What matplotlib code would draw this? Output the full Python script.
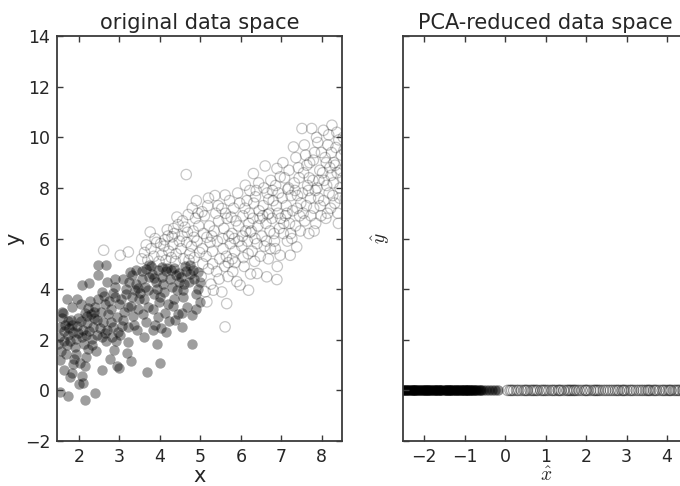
import matplotlib
matplotlib.use("Agg")
import matplotlib.pyplot as plt
import numpy as np

# ---------------------------------------------------------
# Data
# ---------------------------------------------------------
# class A (filled dark circles), original space
dark_x = [
    1.50, 1.55, 1.62, 1.58, 1.70, 1.66, 1.52, 1.72, 1.60, 1.68, 1.54, 1.74, 1.62, 1.54, 1.79, 1.70, 1.58, 1.48, 1.64, 1.76,
    1.80, 1.85, 1.90, 1.95, 1.83, 1.95, 1.88, 1.92, 1.99, 1.74, 1.82, 1.97, 1.86, 1.93, 1.98, 1.78, 1.84,
    2.05, 2.10, 2.15, 2.20, 2.07, 2.16, 2.07, 2.24, 2.12, 2.18, 2.02, 2.22, 2.08, 2.14, 2.20, 2.04, 2.23, 2.11, 2.17,
    2.30, 2.35, 2.40, 2.45, 2.39, 2.48, 2.48, 2.32, 2.44, 2.28, 2.38, 2.47, 2.33, 2.42, 2.36, 2.26,
    2.55, 2.60, 2.65, 2.70, 2.57, 2.77, 2.67, 2.70, 2.58, 2.62, 2.72, 2.53, 2.68, 2.74, 2.56, 2.64,
    2.80, 2.85, 2.90, 2.95, 2.94, 2.82, 2.88, 2.92, 2.98, 2.84, 2.78, 2.96, 2.90, 2.86,
    3.05, 3.10, 3.15, 3.20, 3.18, 3.02, 3.08, 3.12, 3.22, 3.00, 3.16, 3.24, 3.06, 3.20,
    3.29, 3.27, 3.30, 3.35, 3.40, 3.45, 3.32, 3.38, 3.44, 3.48, 3.34, 3.42, 3.46, 3.28,
    3.55, 3.60, 3.65, 3.70, 3.60, 3.68, 3.72, 3.58, 3.62, 3.74, 3.52, 3.66, 3.70, 3.56,
    3.80, 3.85, 3.90, 3.95, 3.93, 3.99, 3.82, 3.88, 3.98, 3.78, 3.92, 3.86, 3.96, 3.84,
    4.05, 4.05, 4.10, 4.15, 4.20, 4.02, 4.08, 4.18, 4.22, 4.12, 4.00, 4.24, 4.14,
    4.34, 4.30, 4.35, 4.40, 4.45, 4.28, 4.38, 4.42, 4.48, 4.32, 4.46,
    4.54, 4.54, 4.60, 4.65, 4.71, 4.58, 4.68, 4.62, 4.52, 4.74, 4.56,
    4.79, 4.79, 4.75, 4.98, 4.95, 4.98, 4.85, 4.90, 4.82, 4.88, 4.93,
]
dark_y = [
    2.10, 1.55, 2.35, 2.85, 1.80, 2.60, 1.20, 2.20, 3.05, 1.45, 2.50, 2.75, 0.80, -0.06, 0.53, 3.63, 3.10, 1.85, 1.95, 2.45,
    2.80, 2.30, 1.70, 2.55, 3.30, 3.63, 1.25, 2.05, 0.27, -0.22, 2.60, 2.85, 1.05, 1.45, 2.25, 1.95, 0.70,
    2.75, 2.40, 3.05, 2.65, 0.57, -0.39, 4.16, 4.23, 1.85, 1.30, 1.10, 3.25, 2.10, 0.95, 2.95, 3.40, 1.65, 0.30, 2.20,
    3.00, 2.50, 3.30, 2.80, -0.12, 4.55, 4.95, 1.80, 2.20, 3.55, 3.10, 3.60, 2.05, 1.55, 2.85, 2.35,
    3.10, 2.70, 3.40, 2.40, 0.80, 1.26, 4.95, 4.30, 2.10, 3.75, 3.00, 2.45, 1.95, 3.55, 3.90, 2.25,
    3.20, 2.50, 3.70, 2.90, 0.96, 2.10, 4.10, 1.95, 3.40, 3.85, 2.70, 2.30, 4.40, 1.60,
    3.60, 2.80, 4.00, 3.30, 1.46, 2.20, 4.40, 3.10, 2.50, 0.90, 3.80, 4.30, 2.55, 1.90,
    1.15, 4.68, 3.70, 2.60, 4.20, 3.20, 4.55, 3.95, 2.40, 3.60, 2.95, 4.75, 4.05, 3.35,
    4.40, 3.60, 4.80, 3.30, 2.12, 0.71, 4.95, 3.00, 4.10, 4.50, 3.85, 2.70, 3.95, 4.70,
    4.60, 3.80, 4.30, 4.75, 1.85, 1.10, 3.20, 2.60, 3.50, 4.90, 4.00, 4.45, 2.90, 2.40,
    4.88, 4.50, 3.90, 4.70, 3.40, 2.45, 4.20, 4.85, 2.75, 3.05, 3.70, 4.40, 2.30,
    4.82, 4.10, 3.60, 4.55, 3.00, 4.75, 2.80, 3.95, 4.65, 3.35, 4.30,
    3.04, 2.49, 4.20, 4.70, 4.29, 3.70, 3.30, 4.90, 4.50, 4.60, 3.95,
    1.85, 2.97, 4.95, 4.29, 4.68, 3.50, 4.40, 3.80, 4.75, 3.20, 4.00,
]

# class B (open circles), original space
open_x = [
    2.61, 3.02, 3.22, 3.76, 4.65, 5.61, 5.65, 6.19, 6.89, 6.64, 5.04,
    3.55, 3.62, 3.70, 3.78, 3.85, 3.92, 3.98, 3.88, 3.66,
    4.05, 4.10, 4.15, 4.20, 4.12, 4.22, 4.02, 4.18,
    4.30, 4.28, 4.32, 4.36, 4.40, 4.45, 4.48, 4.38, 4.42, 4.34,
    4.52, 4.55, 4.58, 4.62, 4.66, 4.70, 4.74, 4.56, 4.68, 4.72,
    4.78, 4.82, 4.85, 4.88, 4.92, 4.96, 4.80, 4.98, 4.90, 4.84, 4.94,
    5.02, 5.05, 5.08, 5.12, 5.16, 5.10, 5.14, 5.18, 5.20, 5.22, 5.24, 5.06, 5.16, 5.20,
    5.26, 5.30, 5.32, 5.34, 5.38, 5.40, 5.42, 5.45, 5.48, 5.36, 5.28, 5.46, 5.44, 5.30,
    5.53, 5.53, 5.56, 5.58, 5.60, 5.62, 5.64, 5.66, 5.68, 5.70, 5.72, 5.61, 5.74, 5.55, 5.69,
    5.78, 5.80, 5.82, 5.85, 5.88, 5.90, 5.92, 5.95, 5.98, 5.79, 5.84, 5.94, 5.97, 5.86, 5.76,
    6.02, 6.05, 6.08, 6.11, 6.12, 6.15, 6.18, 6.20, 6.22, 6.24, 6.04, 6.10, 6.16, 6.21, 6.06, 6.23,
    6.31, 6.28, 6.30, 6.32, 6.35, 6.38, 6.40, 6.42, 6.45, 6.48, 6.26, 6.34, 6.44, 6.47, 6.36, 6.40,
    6.52, 6.55, 6.58, 6.60, 6.62, 6.65, 6.68, 6.70, 6.72, 6.74, 6.54, 6.57, 6.63, 6.69, 6.73, 6.66,
    6.77, 6.80, 6.83, 6.86, 6.89, 6.97, 6.97, 6.92, 6.95, 6.78, 6.82, 6.88, 6.93, 6.85, 6.98, 6.90,
    7.02, 7.05, 7.08, 7.10, 7.12, 7.15, 7.18, 7.20, 7.22, 7.24, 7.04, 7.14, 7.19, 7.06, 7.23, 7.16,
    7.30, 7.28, 7.32, 7.35, 7.38, 7.40, 7.42, 7.45, 7.48, 7.26, 7.34, 7.44, 7.47, 7.51, 7.36, 7.39,
    7.52, 7.55, 7.58, 7.60, 7.62, 7.65, 7.68, 7.70, 7.72, 7.75, 7.54, 7.63, 7.67, 7.73, 7.57, 7.69,
    7.78, 7.80, 7.82, 7.85, 7.88, 7.90, 7.92, 7.95, 7.98, 7.79, 7.84, 7.87, 7.93, 7.96, 7.81, 7.99,
    8.04, 8.02, 8.05, 8.08, 8.10, 8.12, 8.15, 8.18, 8.20, 8.22, 8.24, 8.06, 8.14, 8.17, 8.23, 8.11,
    8.25, 8.28, 8.30, 8.32, 8.35, 8.38, 8.40, 8.42, 8.45, 8.48, 8.27, 8.33, 8.37, 8.44, 8.47, 8.41,
    8.52, 8.55, 8.58, 8.53,
]
open_y = [
    5.54, 5.34, 5.47, 6.26, 8.53, 2.51, 3.43, 3.96, 4.38, 4.49, 7.06,
    5.20, 5.45, 5.15, 5.60, 5.30, 5.85, 5.10, 6.00, 5.75,
    5.35, 5.70, 5.15, 6.10, 5.95, 5.50, 5.80, 6.35,
    6.07, 5.25, 5.75, 6.20, 5.40, 6.55, 5.90, 5.10, 6.85, 6.40,
    5.60, 6.10, 5.20, 6.45, 5.85, 6.95, 5.40, 6.70, 6.25, 5.15,
    5.70, 6.30, 5.25, 6.80, 5.90, 6.50, 7.20, 5.45, 7.50, 6.05, 7.00,
    4.50, 5.60, 6.20, 3.90, 3.50, 6.90, 5.30, 7.30, 4.80, 6.50, 5.85, 5.00, 6.05, 7.60,
    4.20, 5.50, 3.96, 6.30, 7.00, 4.70, 5.90, 6.70, 5.20, 7.70, 6.10, 4.40, 7.30, 5.00,
    3.89, 7.19, 5.60, 6.40, 4.90, 7.00, 5.30, 6.80, 4.50, 6.10, 7.50, 7.72, 5.80, 6.00, 5.05,
    6.20, 4.70, 7.20, 5.50, 6.70, 4.30, 7.80, 5.90, 4.16, 5.20, 6.00, 6.50, 7.40, 5.05, 6.85,
    5.70, 6.90, 4.90, 8.11, 6.30, 7.50, 5.40, 6.60, 7.90, 4.60, 6.10, 7.20, 5.90, 7.00, 5.25, 6.25,
    8.57, 5.50, 6.80, 7.40, 6.00, 7.90, 4.62, 6.50, 7.10, 5.30, 6.30, 5.10, 8.20, 6.80, 7.65, 5.80,
    6.10, 7.30, 5.70, 8.87, 6.60, 7.80, 5.20, 7.00, 6.30, 8.30, 6.90, 8.00, 5.90, 7.55, 5.60, 6.95,
    6.80, 7.50, 5.90, 8.10, 8.77, 8.44, 5.34, 7.00, 6.40, 7.90, 6.20, 7.30, 7.80, 5.60, 6.80, 4.90,
    7.60, 6.20, 8.40, 6.90, 7.30, 5.90, 8.00, 6.60, 5.34, 7.70, 9.00, 7.00, 8.70, 6.60, 6.20, 7.95,
    9.62, 7.10, 8.20, 6.50, 5.67, 7.70, 8.80, 6.90, 7.40, 6.00, 7.90, 8.40, 6.30, 10.35, 9.20, 7.20,
    7.80, 8.60, 6.70, 9.30, 7.30, 8.10, 6.20, 9.00, 7.60, 10.35, 7.00, 8.90, 7.90, 6.90, 9.70, 8.40,
    8.30, 7.20, 9.40, 6.60, 8.00, 9.80, 7.60, 8.70, 6.90, 9.10, 7.90, 10.00, 8.30, 7.30, 6.30, 9.40,
    10.28, 8.60, 7.50, 9.20, 6.80, 8.10, 9.70, 7.80, 8.80, 7.20, 9.40, 8.30, 7.00, 10.10, 8.50, 9.00,
    10.48, 8.20, 9.00, 7.40, 9.60, 8.60, 7.00, 9.90, 8.00, 9.30, 7.70, 8.90, 10.20, 7.60, 8.70, 6.60,
    8.40, 9.50, 7.60, 10.00,
]

# PCA-reduced coordinate (first component) for each class
pca_dark = [
    -2.61, -2.57, -2.55, -2.49, -2.46, -2.44, -2.38, -2.35, -2.31, -2.29, -2.24, -2.20, -2.17,
    -2.13, -2.08, -2.06, -2.01, -1.97, -1.95, -1.90, -1.86, -1.83, -1.79, -1.74, -1.72, -1.66,
    -1.63, -1.60, -1.55, -1.52, -1.47, -1.44, -1.40, -1.36, -1.33, -1.28, -1.25, -1.21, -1.17,
    -1.13, -1.10, -1.05, -1.02, -0.98, -0.95, -0.91, -0.88, -0.84, -0.79, -0.76, -0.71, -0.66,
    -0.60, -0.55, -0.47, -0.41, -0.33, -0.26, -0.18, -2.52, -2.27, -2.03, -1.81, -1.58, -1.38,
    -1.15, -0.93, -2.59, -2.51, -2.42, -2.33, -2.26, -2.15, -2.10, -1.99, -1.92, -1.88, -1.77,
    -1.69, -1.61, -1.50, -1.42, -1.34, -1.30, -1.19, -1.08, -1.00, -0.97, -0.86, -0.74, -0.63,
    -2.40, -2.22, -1.93, -1.70, -1.46, -1.24, -1.06, -0.81, -0.69,
]
pca_open = [
    0.06, 0.12, 0.21, 0.33, 0.40, 0.47, 0.55, 0.62, 0.71, 0.80, 0.88, 0.93, 1.02, 1.08, 1.15,
    1.24, 1.31, 1.38, 1.45, 1.52, 1.60, 1.69, 1.77, 1.83, 1.90, 1.97, 2.04, 2.11, 2.18, 2.26,
    2.35, 2.42, 2.48, 2.60, 2.66, 2.72, 2.81, 2.88, 2.95, 3.01, 3.08, 3.17, 3.24, 3.30, 3.41,
    3.47, 3.52, 3.59, 3.66, 3.74, 3.81, 3.88, 3.97, 4.03, 4.10, 4.17, 4.22, 4.31, 4.38, 4.45,
    4.51, 4.56, 4.68, 0.16, 0.28, 0.51, 0.67, 0.76, 0.97, 1.19, 1.34, 1.56, 1.64, 1.72, 2.00,
    2.22, 2.30, 2.54, 2.77, 2.92, 3.12, 3.36, 3.55, 3.70, 3.92, 4.07, 4.27, 4.41,
]

X_TICKS_LEFT = [2, 3, 4, 5, 6, 7, 8]
Y_TICKS_LEFT = [-2, 0, 2, 4, 6, 8, 10, 12, 14]
X_TICKS_RIGHT = [-2, -1, 0, 1, 2, 3, 4]
Y_TICKS_RIGHT = [-1, 0, 1, 2, 3, 4, 5, 6, 7]

TEXT_COLOR = "#262626"
SPINE_COLOR = "#3a3a3a"

plt.rcParams["mathtext.fontset"] = "cm"
plt.rcParams["font.family"] = ["DejaVu Sans"]


def style_axes(ax):
    for sp in ax.spines.values():
        sp.set_color(SPINE_COLOR)
        sp.set_linewidth(1.3)
    ax.tick_params(direction="in", top=True, right=True, length=4, width=1,
                   color=SPINE_COLOR, labelsize=12.5, labelcolor=TEXT_COLOR, pad=5)


fig = plt.figure(figsize=(6.8, 4.86), dpi=100)
ax1 = fig.add_axes([0.084, 0.0926, 0.419, 0.833])
ax2 = fig.add_axes([0.593, 0.0926, 0.419, 0.833])

# left: original data space
ax1.scatter(dark_x, dark_y, s=56, c="black", alpha=0.38, linewidths=0)
ax1.scatter(open_x, open_y, s=56, facecolors="none", edgecolors=(0, 0, 0, 0.22), linewidths=0.9)
ax1.set_xlim(1.46, 8.5)
ax1.set_ylim(-2, 14)
ax1.set_xticks(X_TICKS_LEFT)
ax1.set_yticks(Y_TICKS_LEFT)
ax1.set_xlabel("x", fontsize=15, color=TEXT_COLOR, labelpad=0)
ax1.set_ylabel("y", fontsize=15, color=TEXT_COLOR, labelpad=0)
ax1.set_title("original data space", fontsize=15, color=TEXT_COLOR, pad=5)
style_axes(ax1)

# right: PCA-reduced data space
ax2.scatter(pca_dark, np.zeros(len(pca_dark)), s=56, c="black", alpha=0.45, linewidths=0)
ax2.scatter(pca_open, np.zeros(len(pca_open)), s=56, facecolors="none",
            edgecolors=(0, 0, 0, 0.35), linewidths=0.9)
ax2.set_xlim(-2.52, 4.52)
ax2.set_ylim(-1, 7)
ax2.set_xticks(X_TICKS_RIGHT)
ax2.set_yticks(Y_TICKS_RIGHT)
ax2.set_yticklabels([])
ax2.set_xlabel(r"$\hat{x}$", fontsize=14, color=TEXT_COLOR, labelpad=0)
ax2.set_ylabel(r"$\hat{y}$", fontsize=14, color=TEXT_COLOR, labelpad=3)
ax2.set_title("PCA-reduced data space", fontsize=15, color=TEXT_COLOR, pad=5)
style_axes(ax2)

fig.savefig("out.png", dpi=100)
